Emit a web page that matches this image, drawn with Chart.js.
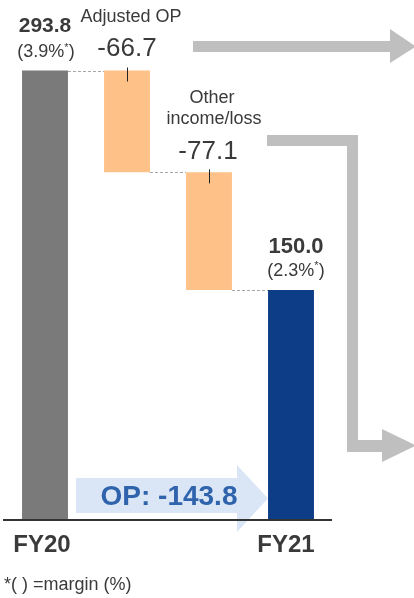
<!DOCTYPE html>
<html>
<head>
<meta charset="utf-8">
<script src="https://cdn.jsdelivr.net/npm/chart.js@4.4.1/dist/chart.umd.min.js"></script>
<style>
  html, body { margin: 0; padding: 0; background: #fff; }
  #wf { display: block; }
</style>
</head>
<body>
<canvas id="wf" width="414" height="598"></canvas>
<script>
// waterfall data (billion yen)
const categories = ["FY20", "Adjusted OP", "Other income/loss", "FY21"];
const startValue = 293.8;
const deltas = [-66.7, -77.1];
const endValue = 150.0;
const margins = ["3.9%", null, null, "2.3%"];
const totalChange = -143.8;

const barColors = ["#7a7a7a", "#fec288", "#fec288", "#0c3d86"];
const FONT = "Arial, 'Liberation Sans', sans-serif";
const TEXT = "#3a3a3a";

// floating ranges built from the deltas
const ranges = [[0, startValue]];
let running = startValue;
deltas.forEach(d => {
  ranges.push([running + d, running]);
  running += d;
});
ranges.push([0, endValue]);

function topOf(el) { return Math.min(el.y, el.base); }

// "(3.9%*)" with raised asterisk
function drawMargin(ctx, txt, cx, cy) {
  const big = "18px " + FONT, small = "11px " + FONT;
  ctx.font = small;
  const wStar = ctx.measureText("*").width;
  ctx.font = big;
  const a = "(" + txt, b = ")";
  const wa = ctx.measureText(a).width, wb = ctx.measureText(b).width;
  let x = cx - (wa + wStar + wb) / 2;
  ctx.textAlign = "left";
  ctx.textBaseline = "middle";
  ctx.fillText(a, x, cy);
  x += wa;
  ctx.font = small;
  ctx.fillText("*", x, cy - 5);
  x += wStar;
  ctx.font = big;
  ctx.fillText(b, x, cy);
  ctx.textAlign = "center";
}

function arrowShape(ctx, pts) {
  ctx.beginPath();
  pts.forEach((p, i) => i ? ctx.lineTo(p[0], p[1]) : ctx.moveTo(p[0], p[1]));
  ctx.closePath();
  ctx.fill();
}

const Decor = {
  id: "decor",
  beforeDatasetsDraw(chart) {
    const { ctx } = chart;
    ctx.save();
    // grey flow arrows on the right
    ctx.fillStyle = "#bfbfbf";
    arrowShape(ctx, [[193, 41], [390, 41], [390, 29], [416, 46.5], [390, 63], [390, 52], [193, 52]]);
    arrowShape(ctx, [[267, 135], [358, 135], [358, 440], [382, 440], [382, 429], [416, 445.5],
                     [382, 462], [382, 452], [347, 452], [347, 146], [267, 146]]);
    ctx.restore();
  },
  afterDatasetsDraw(chart) {
    const { ctx } = chart;
    const els = chart.getDatasetMeta(0).data;
    const ys = chart.scales.y;
    ctx.save();

    // dashed connectors between bars (at the running total)
    ctx.strokeStyle = "#a6a6a6";
    ctx.lineWidth = 1;
    ctx.setLineDash([3, 2]);
    for (let i = 0; i < els.length - 1; i++) {
      const a = els[i], b = els[i + 1];
      const v = i === 0 ? ranges[0][1] : ranges[i][0];
      const y = Math.round(ys.getPixelForValue(v)) + 0.5;
      ctx.beginPath();
      ctx.moveTo(a.x + a.width / 2, y);
      ctx.lineTo(b.x - b.width / 2, y);
      ctx.stroke();
    }
    ctx.setLineDash([]);

    // leader ticks on the delta bars
    ctx.strokeStyle = "#222";
    [1, 2].forEach(i => {
      const el = els[i], t = topOf(el);
      ctx.beginPath();
      ctx.moveTo(Math.round(el.x) + 0.5, t - 3);
      ctx.lineTo(Math.round(el.x) + 0.5, t + 11);
      ctx.stroke();
    });

    ctx.fillStyle = TEXT;
    ctx.textAlign = "center";
    ctx.textBaseline = "middle";

    // FY20
    let el = els[0], t = topOf(el);
    ctx.font = "bold 21px " + FONT;
    ctx.fillText(startValue.toFixed(1), el.x, t - 44);
    drawMargin(ctx, margins[0], el.x + 1, t - 18);

    // Adjusted OP
    el = els[1]; t = topOf(el);
    ctx.font = "18px " + FONT;
    ctx.fillText("Adjusted OP", el.x + 4, t - 53);
    ctx.font = "26px " + FONT;
    ctx.fillText(deltas[0].toFixed(1), el.x, t - 22);

    // Other income/loss
    el = els[2]; t = topOf(el);
    ctx.font = "18px " + FONT;
    ctx.fillText("Other", el.x + 3, t - 74);
    ctx.fillText("income/loss", el.x + 5, t - 53);
    ctx.font = "26px " + FONT;
    ctx.fillText(deltas[1].toFixed(1), el.x - 1, t - 21);

    // FY21
    el = els[3]; t = topOf(el);
    ctx.font = "bold 22px " + FONT;
    ctx.fillText(endValue.toFixed(1), el.x + 5, t - 43);
    drawMargin(ctx, margins[3], el.x + 5, t - 19);

    // blue OP arrow
    ctx.fillStyle = "#dae6f6";
    arrowShape(ctx, [[76, 478], [237, 478], [237, 465], [268, 498.5], [237, 532], [237, 513], [76, 513]]);

    // baseline
    const yb = ys.getPixelForValue(0);
    ctx.strokeStyle = "#333";
    ctx.lineWidth = 2;
    ctx.beginPath();
    ctx.moveTo(3, yb + 1);
    ctx.lineTo(332, yb + 1);
    ctx.stroke();

    ctx.fillStyle = "#2f64ad";
    ctx.font = "bold 28px " + FONT;
    ctx.fillText("OP: " + totalChange.toFixed(1), 169, 497);

    // category labels
    ctx.fillStyle = TEXT;
    ctx.font = "bold 24px " + FONT;
    ctx.fillText(categories[0], els[0].x - 3, yb + 26);
    ctx.fillText(categories[3], els[3].x - 5, yb + 26);

    ctx.textAlign = "left";
    ctx.font = "18px " + FONT;
    ctx.fillText("*( ) =margin (%)", 4, 585);

    ctx.restore();
  }
};

new Chart(document.getElementById("wf"), {
  type: "bar",
  data: {
    labels: categories,
    datasets: [{
      data: ranges,
      backgroundColor: barColors,
      borderWidth: 0,
      categoryPercentage: 1,
      barPercentage: 0.56
    }]
  },
  options: {
    responsive: false,
    animation: false,
    layout: { padding: { left: 4, right: 82, top: 0, bottom: 79 } },
    plugins: { legend: { display: false }, tooltip: { enabled: false } },
    scales: {
      x: { display: false },
      y: { display: false, min: 0, max: 340 }
    }
  },
  plugins: [Decor]
});
</script>
</body>
</html>
